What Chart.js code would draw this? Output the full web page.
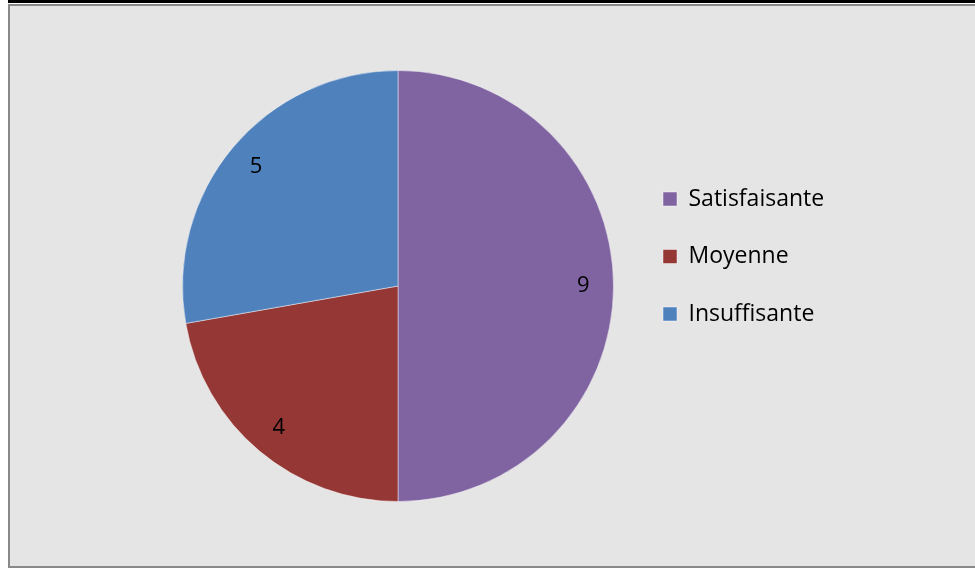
<!DOCTYPE html>
<html>
<head>
<meta charset="utf-8">
<title>Répartition</title>
<script src="https://cdn.jsdelivr.net/npm/chart.js@4/dist/chart.umd.min.js"></script>
<style>
  html, body { margin: 0; padding: 0; background: #fff; overflow: hidden; }
  #topRule { position: absolute; left: 8px; top: 0; width: 1000px; height: 3px; background: #000; }
  #frame { position: absolute; left: 8px; top: 4px; width: 1000px; height: 560px;
           border: 2px solid #898989; background: #e5e5e5; }
  #frame canvas { display: block; }
</style>
</head>
<body>
<div id="topRule"></div>
<div id="frame"><canvas id="pieChart" width="978" height="560"></canvas></div>
<script>
const categories = ["Satisfaisante", "Moyenne", "Insuffisante"];
const counts = [9, 4, 5];
const sliceColors = ["#8064a2", "#953735", "#4f81bd"];

const FONT = "'Open Sans', 'Noto Sans', sans-serif";

// value written inside each slice, near the rim
const sliceValues = {
  id: "sliceValues",
  afterDatasetsDraw(chart) {
    const ctx = chart.ctx;
    const meta = chart.getDatasetMeta(0);
    ctx.save();
    ctx.font = "22px " + FONT;
    ctx.fillStyle = "#000";
    ctx.textAlign = "center";
    ctx.textBaseline = "middle";
    meta.data.forEach((arc, i) => {
      const p = arc.getProps(["x", "y", "startAngle", "endAngle", "outerRadius"], true);
      const mid = (p.startAngle + p.endAngle) / 2;
      const r = p.outerRadius * 0.86;
      ctx.fillText(String(chart.data.datasets[0].data[i]), p.x + Math.cos(mid) * r, p.y + Math.sin(mid) * r);
    });
    ctx.restore();
  }
};

// put the legend block to the right of the pie, a bit above its centre
const legendSpot = {
  id: "legendSpot",
  afterLayout(chart) {
    const lg = chart.legend;
    const w = lg.width, h = lg.height;
    lg.left = 618.5; lg.right = lg.left + w;
    lg.top = 147; lg.bottom = lg.top + h;
  }
};

new Chart(document.getElementById("pieChart"), {
  type: "pie",
  data: {
    labels: categories,
    datasets: [{
      data: counts,
      backgroundColor: sliceColors,
      borderColor: "rgba(255,255,255,0.45)",
      borderWidth: 1
    }]
  },
  options: {
    responsive: false,
    animation: false,
    layout: { padding: { left: 172, right: 374, top: 64, bottom: 64 } },
    plugins: {
      tooltip: { enabled: false },
      legend: {
        position: "chartArea",
        align: "start",
        labels: {
          color: "#000",
          boxWidth: 14,
          boxHeight: 14,
          padding: 34.5,
          font: { family: FONT, size: 23 }
        }
      }
    }
  },
  plugins: [sliceValues, legendSpot]
});
</script>
</body>
</html>
